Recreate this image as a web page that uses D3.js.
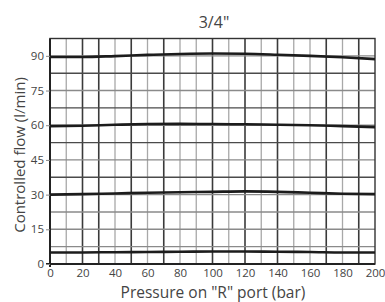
<!DOCTYPE html>
<html>
<head>
<meta charset="utf-8">
<script src="https://cdn.jsdelivr.net/npm/d3@7"></script>
<style>
  body { margin: 0; background: #fff; }
  text { font-family: "Open Sans", "DejaVu Sans", sans-serif; fill: #444; }
</style>
</head>
<body>
<div id="viz"></div>
<script>
// pressure on R port (bar)
var pressure = [0, 20, 40, 60, 80, 100, 120, 140, 160, 180, 200];
// controlled flow curves (l/min)
var flow90 = [89.5, 89.5, 89.9, 90.4, 90.8, 91.0, 90.9, 90.5, 90.0, 89.4, 88.6];
var flow60 = [59.6, 59.8, 60.2, 60.5, 60.6, 60.5, 60.4, 60.2, 60.0, 59.6, 59.2];
var flow30 = [30.0, 30.2, 30.5, 30.8, 31.0, 31.2, 31.4, 31.2, 30.8, 30.4, 30.2];
var flow5 = [5.0, 5.0, 5.1, 5.2, 5.3, 5.4, 5.4, 5.3, 5.2, 5.0, 5.0];
var xTicks = [0, 20, 40, 60, 80, 100, 120, 140, 160, 180, 200];
var yTicks = [0, 15, 30, 45, 60, 75, 90];

(function() {
  'use strict';
  var W = 385, H = 302;
  var svg = d3.select('#viz').append('svg')
    .attr('width', W).attr('height', H);

  var x = d3.scaleLinear().domain([0, 200]).range([50, 375]);
  var y = d3.scaleLinear().domain([0, 97.5]).range([264, 38.5]);

  // graph paper grid, 10 bar x 7.5 l/min
  var darkV = [2, 3, 5, 7, 10, 12, 14, 17, 19];
  var vLines = d3.range(1, 20);
  svg.append('g').selectAll('line').data(vLines).enter().append('line')
    .attr('x1', function(d) { return x(d * 10); })
    .attr('x2', function(d) { return x(d * 10); })
    .attr('y1', y(97.5)).attr('y2', y(0))
    .attr('stroke', function(d) { return darkV.indexOf(d) >= 0 ? '#3a3a3a' : '#a8a8a8'; })
    .attr('stroke-width', function(d) { return darkV.indexOf(d) >= 0 ? 1.6 : 1.3; });

  var darkH = [5, 7, 9, 11];
  var hLines = d3.range(1, 13);
  svg.append('g').selectAll('line').data(hLines).enter().append('line')
    .attr('y1', function(d) { return y(d * 7.5); })
    .attr('y2', function(d) { return y(d * 7.5); })
    .attr('x1', x(0)).attr('x2', x(200))
    .attr('stroke', function(d) { return darkH.indexOf(d) >= 0 ? '#4a4a4a' : '#8a8a8a'; })
    .attr('stroke-width', 1.4);

  // frame
  svg.append('rect')
    .attr('x', x(0)).attr('y', y(97.5))
    .attr('width', x(200) - x(0)).attr('height', y(0) - y(97.5))
    .attr('fill', 'none').attr('stroke', '#333').attr('stroke-width', 1.4);

  // axes
  var xAxis = svg.append('g').attr('transform', 'translate(0,' + y(0) + ')')
    .call(d3.axisBottom(x).tickValues(xTicks).tickSize(0).tickPadding(5));
  xAxis.select('.domain').attr('stroke', '#222').attr('stroke-width', 2)
    .attr('d', 'M' + (x(0) - 4) + ',0H' + x(200));
  xAxis.selectAll('text').style('font-size', '11.5px').attr('fill', '#444');

  var yAxis = svg.append('g').attr('transform', 'translate(' + x(0) + ',0)')
    .call(d3.axisLeft(y).tickValues(yTicks).tickSize(4).tickPadding(2));
  yAxis.select('.domain').attr('stroke', '#222').attr('stroke-width', 2)
    .attr('d', 'M0,' + y(97.5) + 'V' + (y(0) + 3));
  yAxis.selectAll('.tick line').attr('stroke', '#888');
  yAxis.selectAll('text').style('font-size', '11.5px').attr('fill', '#444');

  // flow curves
  var line = d3.line()
    .x(function(d) { return x(d[0]); })
    .y(function(d) { return y(d[1]); })
    .curve(d3.curveMonotoneX);
  [flow90, flow60, flow30, flow5].forEach(function(s) {
    svg.append('path')
      .datum(pressure.map(function(p, i) { return [p, s[i]]; }))
      .attr('d', line)
      .attr('fill', 'none')
      .attr('stroke', '#1c1c1c')
      .attr('stroke-width', 2.6);
  });

  // titles
  svg.append('text').attr('x', 214).attr('y', 28)
    .attr('text-anchor', 'middle').style('font-size', '16px').attr('fill', '#333')
    .text('3/4"');
  svg.append('text').attr('x', 213).attr('y', 298)
    .attr('text-anchor', 'middle').style('font-size', '15.5px').attr('fill', '#333')
    .text('Pressure on "R" port (bar)');
  svg.append('text')
    .attr('transform', 'translate(25,' + 155 + ') rotate(-90)')
    .attr('text-anchor', 'middle').style('font-size', '15px').attr('fill', '#333')
    .text('Controlled flow (l/min)');
})();
</script>
</body>
</html>
